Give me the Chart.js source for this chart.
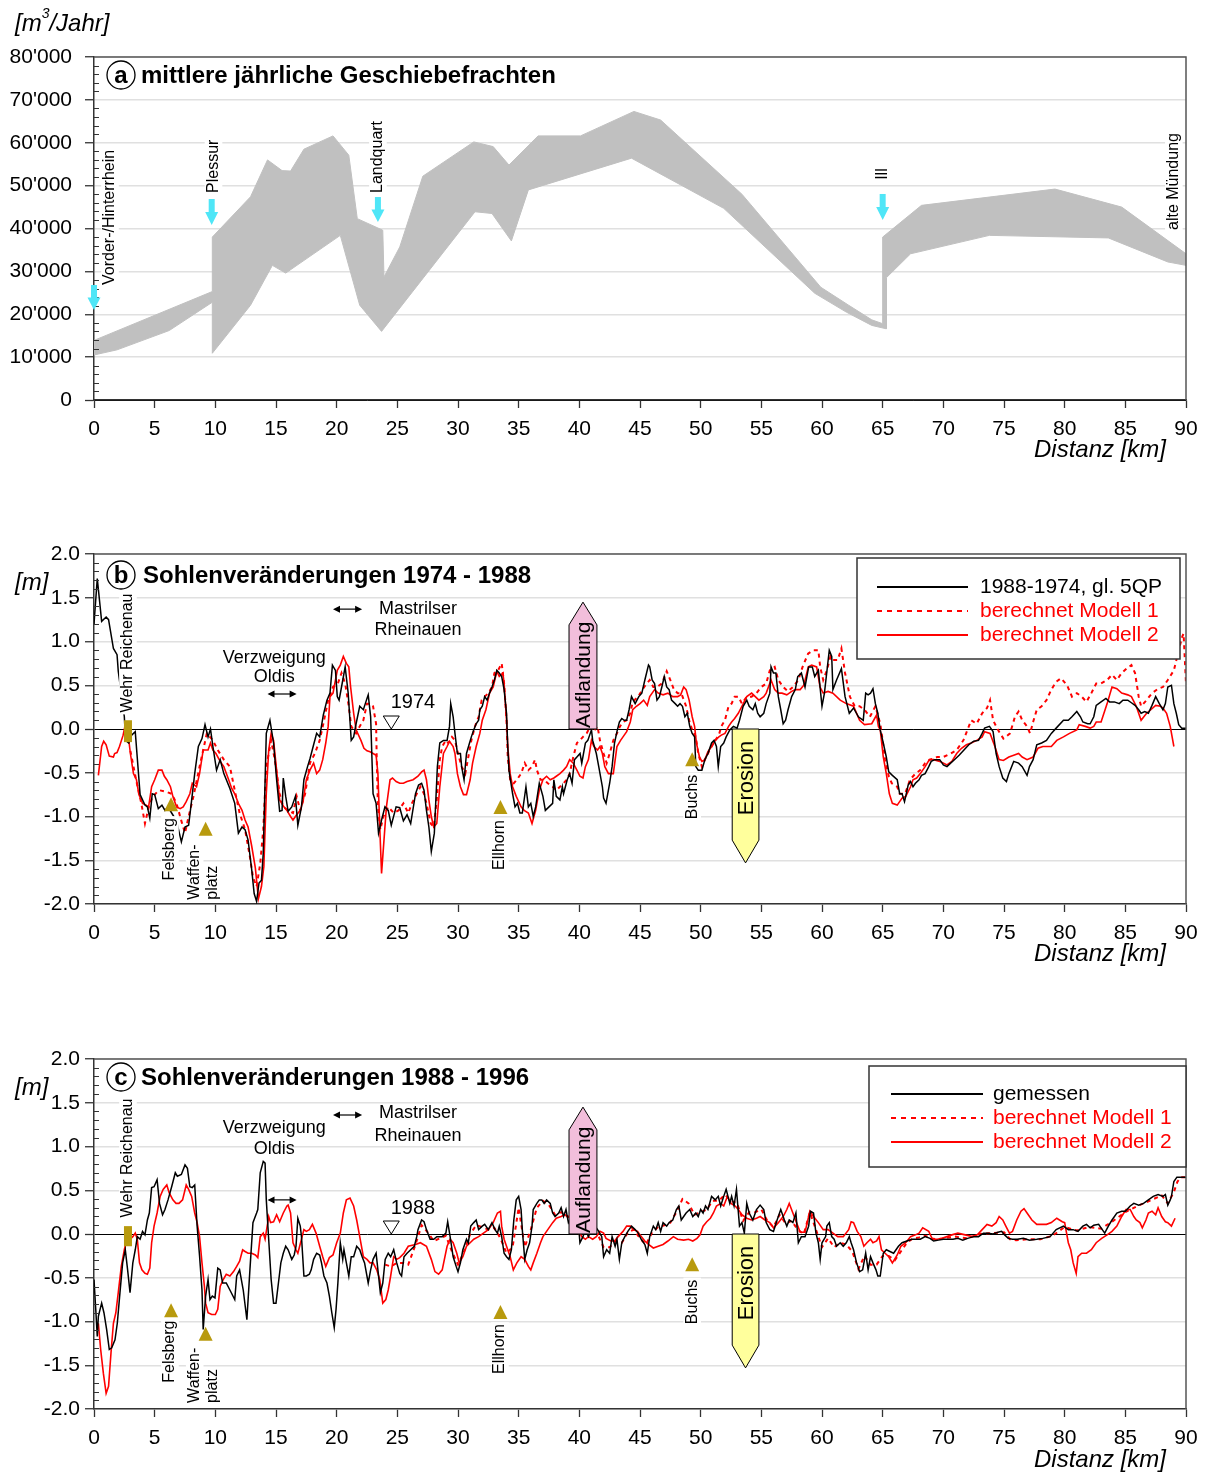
<!DOCTYPE html>
<html><head><meta charset="utf-8">
<script src="https://cdn.jsdelivr.net/npm/chart.js@4.4.0/dist/chart.umd.min.js"></script>
<style>
html,body{margin:0;padding:0;background:#fff;}
body{width:1208px;height:1472px;position:relative;overflow:hidden;}
canvas{position:absolute;left:0;}
</style></head><body>
<canvas id="ca" width="1208" height="470" style="top:0px;width:1208px;height:470px"></canvas>
<canvas id="cb" width="1208" height="480" style="top:490px;width:1208px;height:480px"></canvas>
<canvas id="cc" width="1208" height="482" style="top:990px;width:1208px;height:482px"></canvas>
<script>
// ---------------- DATA ----------------
const kmTicks = [0,5,10,15,20,25,30,35,40,45,50,55,60,65,70,75,80,85,90];
const loadTicks = [0,10000,20000,30000,40000,50000,60000,70000,80000];
const changeTicks = [-2,-1.5,-1,-0.5,0,0.5,1,1.5,2];

// (a) mean annual bedload: upper and lower bound of band [km, m3/year]
const loadUpper = [[0,13900],[9.75,25300],[9.75,38000],[12.9,47400],[14.3,56000],[15.5,53500],[16.2,53400],[17.3,58500],[19.7,61600],[21.0,57100],[21.7,42300],[23.8,39600],[23.9,28700],[25.2,35700],[27.1,52200],[31.3,60200],[32.9,59100],[34.2,54800],[36.6,61600],[40.1,61600],[44.5,67300],[46.7,65300],[53.4,48000],[59.9,26300],[62.2,22100],[64.1,18700],[65.0,17800],[65.0,38000],[68.2,45400],[79.2,49200],[84.7,45000],[90,34100]];
const loadLower = [[0,10500],[1.9,11700],[6.2,16200],[9.75,22800],[9.75,10900],[12.9,22100],[14.7,31400],[15.8,29600],[20.3,38400],[21.9,22100],[23.7,16000],[31.4,43900],[32.8,43500],[34.4,37100],[35.8,49000],[44.3,56400],[51.9,44700],[59.4,24900],[62.0,20500],[64.1,17400],[65.3,16600],[65.3,28500],[67.3,34100],[73.8,38400],[83.6,37800],[88.5,32200],[90,31400]];

// (b) bed changes 1974-1988 [km, m]
const bMeasured = [[0,1.20],[0.27,1.72],[0.63,1.23],[1.0,1.28],[1.2,1.25],[1.6,0.92],[1.9,0.85],[2.0,0.66],[2.5,0.14],[2.6,-0.13],[2.86,-0.16],[3.1,-0.07],[3.4,-0.03],[3.8,-0.75],[4.2,-0.87],[4.4,-0.89],[4.6,-1.02],[4.8,-0.74],[5.0,-0.75],[5.3,-0.91],[5.6,-0.87],[5.85,-0.93],[6.1,-0.89],[6.4,-0.96],[6.8,-1.05],[7.2,-1.29],[7.5,-1.12],[7.8,-1.10],[8.05,-0.81],[8.3,-0.51],[8.6,-0.20],[8.9,-0.11],[9.15,0.05],[9.4,-0.09],[9.6,0.0],[9.8,-0.20],[10.1,-0.47],[10.4,-0.35],[10.7,-0.51],[11.2,-0.68],[11.6,-0.85],[11.9,-1.19],[12.2,-1.12],[12.45,-1.15],[12.7,-1.27],[13.0,-1.61],[13.2,-1.88],[13.4,-1.97],[13.6,-1.76],[13.8,-1.73],[13.95,-1.42],[14.2,-0.05],[14.5,0.10],[14.8,-0.16],[15.05,-0.58],[15.3,-0.94],[15.5,-0.93],[15.6,-0.56],[15.8,-0.77],[16.0,-0.94],[16.3,-0.89],[16.4,-0.85],[16.6,-0.77],[16.8,-1.10],[17.1,-0.89],[17.3,-0.58],[17.6,-0.43],[17.8,-0.34],[18.1,-0.18],[18.35,-0.05],[18.6,-0.09],[18.9,0.16],[19.2,0.33],[19.45,0.41],[19.65,0.73],[19.9,0.67],[20.05,0.37],[20.2,0.33],[20.4,0.48],[20.7,0.71],[20.95,0.41],[21.2,-0.13],[21.4,-0.09],[21.6,0.06],[21.9,0.26],[22.2,0.22],[22.5,0.35],[22.6,0.39],[22.8,0.14],[23.0,-0.74],[23.25,-0.85],[23.45,-1.19],[23.7,-1.04],[23.98,-0.89],[24.25,-0.93],[24.5,-1.10],[24.9,-0.89],[25.2,-0.90],[25.5,-1.05],[25.8,-0.98],[26.1,-1.08],[26.5,-0.74],[26.75,-0.64],[27.0,-0.62],[27.2,-0.70],[27.4,-0.93],[27.6,-1.12],[27.8,-1.40],[28.05,-1.19],[28.3,-0.43],[28.5,-0.16],[28.8,-0.13],[29.1,-0.13],[29.3,0.03],[29.4,0.29],[29.6,0.14],[29.75,-0.05],[29.95,-0.28],[30.2,-0.28],[30.3,-0.43],[30.5,-0.58],[30.7,-0.28],[30.95,-0.16],[31.1,-0.09],[31.3,-0.01],[31.5,0.06],[31.7,0.10],[31.8,0.22],[32.0,0.26],[32.2,0.37],[32.4,0.33],[32.6,0.41],[32.8,0.48],[33.0,0.56],[33.2,0.67],[33.4,0.64],[33.6,0.60],[33.8,0.45],[34.0,0.18],[34.1,-0.20],[34.2,-0.47],[34.5,-0.74],[34.7,-0.89],[34.9,-0.85],[35.1,-0.96],[35.3,-0.96],[35.6,-0.66],[35.8,-0.89],[36.0,-0.85],[36.2,-1.00],[36.4,-0.89],[36.7,-0.62],[37.0,-0.77],[37.2,-0.93],[37.5,-0.89],[37.8,-0.85],[37.9,-0.58],[38.1,-0.77],[38.4,-0.81],[38.6,-0.66],[38.7,-0.74],[39.0,-0.58],[39.2,-0.51],[39.4,-0.62],[39.6,-0.35],[39.8,-0.32],[40.06,-0.28],[40.2,-0.39],[40.5,-0.16],[40.7,-0.13],[40.9,-0.05],[41.0,-0.01],[41.1,-0.13],[41.4,-0.28],[41.6,-0.43],[41.9,-0.66],[42.0,-0.79],[42.2,-0.85],[42.5,-0.62],[42.7,-0.43],[42.9,-0.16],[43.1,-0.03],[43.3,0.08],[43.5,0.12],[43.7,0.10],[43.9,0.10],[44.1,0.22],[44.3,0.37],[44.6,0.29],[44.9,0.37],[45.15,0.41],[45.4,0.56],[45.7,0.73],[45.8,0.71],[46.0,0.56],[46.2,0.52],[46.4,0.33],[46.6,0.37],[46.8,0.48],[47.0,0.60],[47.2,0.48],[47.4,0.45],[47.6,0.33],[47.9,0.29],[48.1,0.26],[48.3,0.29],[48.5,0.26],[48.7,0.14],[48.9,0.18],[49.1,0.03],[49.3,-0.05],[49.5,-0.09],[49.6,-0.43],[49.8,-0.47],[50.1,-0.47],[50.35,-0.35],[50.6,-0.28],[50.9,-0.16],[51.1,-0.13],[51.3,-0.20],[51.45,-0.43],[51.65,-0.20],[51.9,-0.16],[52.1,-0.09],[52.4,-0.01],[52.7,0.03],[53.0,0.01],[53.2,0.10],[53.5,0.26],[53.8,0.33],[54.0,0.26],[54.3,0.22],[54.5,0.29],[54.7,0.18],[54.9,0.14],[55.2,0.18],[55.4,0.29],[55.7,0.41],[55.8,0.71],[56.0,0.64],[56.2,0.64],[56.4,0.37],[56.6,0.22],[56.8,0.06],[57.0,0.10],[57.2,0.22],[57.5,0.37],[57.8,0.45],[58.0,0.60],[58.3,0.64],[58.6,0.48],[58.9,0.71],[59.2,0.71],[59.4,0.60],[59.7,0.67],[60.0,0.26],[60.2,0.41],[60.6,0.90],[60.8,0.83],[60.9,0.45],[61.2,0.56],[61.6,0.69],[61.9,0.37],[62.25,0.18],[62.6,0.24],[63.0,0.14],[63.4,0.10],[63.6,0.41],[63.8,0.39],[64.0,0.41],[64.2,0.46],[64.4,0.29],[64.6,0.18],[64.8,-0.01],[65.05,-0.16],[65.3,-0.32],[65.5,-0.49],[65.8,-0.53],[66.2,-0.58],[66.4,-0.74],[66.6,-0.74],[66.8,-0.83],[66.9,-0.77],[67.1,-0.64],[67.3,-0.60],[67.5,-0.66],[67.7,-0.62],[68.0,-0.58],[68.2,-0.53],[68.5,-0.51],[68.8,-0.43],[69.0,-0.37],[69.3,-0.35],[69.7,-0.35],[70.0,-0.41],[70.3,-0.43],[70.6,-0.39],[71.0,-0.34],[71.3,-0.30],[71.7,-0.24],[72.1,-0.18],[72.5,-0.14],[72.9,-0.13],[73.2,-0.05],[73.4,0.01],[73.8,0.03],[74.1,-0.03],[74.35,-0.28],[74.6,-0.43],[74.9,-0.56],[75.2,-0.60],[75.4,-0.51],[75.8,-0.37],[76.2,-0.39],[76.5,-0.43],[76.9,-0.53],[77.1,-0.43],[77.4,-0.35],[77.7,-0.18],[78.1,-0.16],[78.5,-0.13],[78.9,-0.05],[79.3,0.01],[79.9,0.10],[80.3,0.10],[80.6,0.14],[81.0,0.20],[81.3,0.14],[81.5,0.08],[81.9,0.06],[82.1,0.06],[82.4,0.14],[82.6,0.27],[83.0,0.31],[83.4,0.35],[83.7,0.31],[84.1,0.31],[84.5,0.29],[84.8,0.33],[85.2,0.33],[85.5,0.30],[85.8,0.27],[86.1,0.22],[86.3,0.18],[86.6,0.20],[86.9,0.18],[87.2,0.27],[87.5,0.37],[87.8,0.29],[88.1,0.22],[88.3,0.29],[88.5,0.48],[88.8,0.50],[89.0,0.29],[89.2,0.18],[89.4,0.05],[89.65,0.01],[90.0,0.01]];
const bModel1 = [[3.0,-0.25],[3.5,-0.60],[3.9,-0.85],[4.2,-1.08],[4.5,-0.90],[4.8,-0.78],[5.2,-0.72],[5.4,-0.70],[6.0,-0.72],[6.4,-0.74],[6.8,-0.85],[7.2,-1.05],[7.5,-1.19],[7.8,-1.00],[8.2,-0.77],[8.7,-0.43],[9.3,-0.05],[9.8,-0.13],[10.2,-0.24],[10.7,-0.35],[11.2,-0.43],[11.6,-0.70],[12.0,-0.96],[12.45,-1.15],[12.85,-1.46],[13.1,-1.69],[13.4,-1.80],[13.7,-1.54],[13.95,-1.15],[14.2,-0.43],[14.6,-0.13],[14.9,-0.35],[15.3,-0.74],[15.6,-0.89],[16.0,-0.93],[16.4,-0.96],[16.7,-0.77],[17.0,-0.93],[17.4,-0.74],[17.8,-0.39],[18.2,-0.28],[18.6,-0.13],[18.9,0.06],[19.3,0.33],[19.7,0.48],[20.1,0.52],[20.4,0.64],[20.7,0.52],[21.0,0.26],[21.2,0.03],[21.6,-0.05],[21.9,0.03],[22.2,0.10],[22.5,0.29],[22.75,0.29],[23.0,0.26],[23.25,0.06],[23.3,-0.32],[23.4,-0.89],[23.6,-1.15],[23.85,-1.00],[24.25,-0.89],[24.7,-0.96],[25.1,-0.93],[25.5,-0.85],[25.9,-0.96],[26.2,-0.85],[26.6,-0.74],[26.9,-0.66],[27.2,-0.74],[27.4,-0.85],[27.75,-1.08],[28.0,-1.12],[28.25,-0.81],[28.5,-0.35],[28.7,-0.20],[29.0,-0.13],[29.2,-0.16],[29.5,-0.09],[29.75,-0.13],[30.0,-0.28],[30.3,-0.43],[30.6,-0.51],[30.85,-0.32],[31.1,-0.13],[31.4,0.03],[31.7,0.14],[31.95,0.33],[32.2,0.37],[32.5,0.41],[32.8,0.48],[33.0,0.64],[33.3,0.67],[33.6,0.75],[33.8,0.52],[34.0,0.10],[34.1,-0.32],[34.3,-0.58],[34.6,-0.62],[34.85,-0.58],[35.2,-0.51],[35.5,-0.39],[35.8,-0.47],[36.1,-0.43],[36.35,-0.35],[36.5,-0.47],[36.8,-0.58],[37.1,-0.58],[37.4,-0.62],[37.8,-0.66],[38.1,-0.70],[38.4,-0.66],[38.7,-0.62],[38.95,-0.58],[39.2,-0.51],[39.5,-0.32],[39.8,-0.16],[40.05,-0.13],[40.3,-0.09],[40.6,-0.05],[40.9,0.03],[41.15,-0.03],[41.5,0.03],[41.7,-0.13],[42.0,-0.28],[42.25,-0.39],[42.5,-0.28],[42.8,-0.13],[43.1,-0.05],[43.35,0.03],[43.6,0.08],[43.9,0.10],[44.2,0.18],[44.4,0.31],[44.85,0.37],[45.25,0.46],[45.55,0.52],[45.8,0.56],[46.1,0.48],[46.4,0.48],[46.8,0.52],[47.2,0.66],[47.5,0.56],[47.8,0.45],[48.1,0.41],[48.4,0.41],[48.8,0.26],[49.05,0.10],[49.3,-0.01],[49.6,-0.09],[49.8,-0.28],[50.1,-0.43],[50.35,-0.35],[50.6,-0.28],[50.9,-0.20],[51.2,-0.13],[51.5,-0.07],[51.7,0.03],[52.0,0.10],[52.3,0.26],[52.55,0.29],[52.8,0.37],[53.1,0.37],[53.4,0.29],[53.8,0.37],[54.2,0.37],[54.6,0.41],[55.0,0.48],[55.4,0.52],[55.7,0.67],[56.1,0.71],[56.4,0.56],[56.8,0.48],[57.2,0.43],[57.6,0.48],[58.05,0.56],[58.4,0.71],[58.85,0.86],[59.25,0.90],[59.7,0.90],[59.85,0.71],[60.1,0.56],[60.4,0.67],[60.7,0.83],[60.9,0.79],[61.3,0.79],[61.6,0.92],[61.9,0.64],[62.3,0.37],[62.7,0.26],[63.1,0.26],[63.5,0.22],[63.95,0.14],[64.4,0.26],[64.8,0.06],[65.0,-0.13],[65.2,-0.35],[65.5,-0.54],[65.75,-0.62],[66.2,-0.66],[66.4,-0.74],[66.85,-0.74],[67.25,-0.58],[67.7,-0.51],[68.1,-0.47],[68.5,-0.39],[68.9,-0.35],[69.5,-0.32],[70.0,-0.32],[70.6,-0.28],[71.1,-0.24],[71.65,-0.13],[72.1,0.03],[72.3,0.10],[72.75,0.06],[73.2,0.18],[73.6,0.24],[73.85,0.33],[74.1,0.10],[74.5,-0.01],[74.95,-0.11],[75.5,-0.05],[75.9,0.14],[76.2,0.20],[76.5,0.10],[76.9,0.03],[77.15,-0.05],[77.4,0.08],[77.7,0.22],[78.1,0.26],[78.5,0.33],[78.9,0.45],[79.3,0.54],[79.7,0.58],[80.2,0.50],[80.6,0.37],[81.0,0.41],[81.4,0.37],[81.8,0.31],[82.2,0.41],[82.6,0.52],[83.0,0.52],[83.5,0.56],[83.9,0.62],[84.3,0.56],[84.7,0.64],[85.1,0.69],[85.5,0.73],[85.8,0.64],[86.1,0.37],[86.3,0.26],[86.75,0.33],[87.2,0.41],[87.7,0.46],[88.1,0.48],[88.5,0.56],[89.0,0.67],[89.4,0.90],[89.7,1.06],[89.8,1.09],[90.0,0.52]];
const bModel2 = [[0.36,-0.53],[0.63,-0.20],[0.8,-0.14],[1.0,-0.18],[1.26,-0.31],[1.6,-0.32],[1.7,-0.28],[1.9,-0.27],[2.1,-0.20],[2.4,-0.07],[2.55,0.03],[2.8,-0.05],[3.0,-0.28],[3.25,-0.51],[3.5,-0.58],[3.7,-0.75],[4.0,-0.85],[4.3,-0.87],[4.5,-0.89],[4.75,-0.66],[5.0,-0.58],[5.3,-0.47],[5.6,-0.47],[5.8,-0.54],[6.0,-0.58],[6.3,-0.66],[6.5,-0.77],[6.8,-0.89],[7.1,-0.91],[7.35,-0.89],[7.6,-0.83],[7.9,-0.74],[8.1,-0.62],[8.45,-0.66],[8.7,-0.51],[9.0,-0.24],[9.15,-0.24],[9.4,-0.24],[9.6,-0.16],[9.8,-0.24],[10.05,-0.28],[10.4,-0.37],[10.7,-0.43],[11.1,-0.58],[11.35,-0.68],[11.6,-0.74],[11.9,-0.85],[12.2,-0.93],[12.45,-1.04],[12.7,-1.12],[13.0,-1.34],[13.3,-1.59],[13.55,-1.94],[13.8,-1.80],[14.0,-1.57],[14.2,-0.74],[14.4,-0.24],[14.6,-0.05],[14.8,-0.13],[15.05,-0.47],[15.3,-0.81],[15.65,-0.89],[15.9,-0.93],[16.2,-1.00],[16.4,-1.04],[16.7,-0.98],[17.0,-0.93],[17.25,-0.81],[17.5,-0.58],[17.8,-0.47],[18.1,-0.39],[18.35,-0.51],[18.6,-0.47],[18.85,-0.35],[19.1,-0.16],[19.3,0.03],[19.45,0.37],[19.7,0.41],[20.05,0.67],[20.3,0.73],[20.55,0.83],[20.8,0.75],[21.0,0.71],[21.15,0.48],[21.4,0.18],[21.6,-0.01],[22.0,-0.13],[22.25,-0.22],[22.5,-0.25],[22.75,-0.26],[23.0,-0.28],[23.25,-0.30],[23.4,-0.51],[23.55,-1.12],[23.7,-1.65],[23.9,-1.27],[24.1,-0.89],[24.4,-0.58],[24.6,-0.56],[24.9,-0.60],[25.2,-0.62],[25.5,-0.62],[25.8,-0.60],[26.3,-0.58],[26.7,-0.54],[27.0,-0.49],[27.2,-0.47],[27.4,-0.58],[27.6,-0.81],[27.8,-1.00],[28.0,-1.12],[28.25,-1.08],[28.5,-0.66],[28.8,-0.28],[29.1,-0.20],[29.3,-0.14],[29.6,-0.20],[29.75,-0.28],[29.95,-0.51],[30.2,-0.66],[30.45,-0.75],[30.7,-0.75],[31.0,-0.58],[31.2,-0.39],[31.5,-0.20],[31.8,-0.05],[32.0,0.10],[32.3,0.22],[32.6,0.41],[32.9,0.48],[33.2,0.66],[33.4,0.60],[33.7,0.64],[33.8,0.52],[34.0,0.10],[34.1,-0.20],[34.3,-0.51],[34.5,-0.66],[34.8,-0.77],[35.2,-0.89],[35.45,-0.93],[35.8,-0.96],[36.1,-1.08],[36.4,-0.93],[36.7,-0.70],[37.0,-0.58],[37.3,-0.54],[37.6,-0.58],[37.9,-0.56],[38.1,-0.54],[38.4,-0.51],[38.7,-0.47],[38.95,-0.43],[39.2,-0.35],[39.5,-0.39],[39.8,-0.47],[40.05,-0.54],[40.3,-0.56],[40.5,-0.43],[40.75,-0.35],[41.0,-0.13],[41.2,-0.20],[41.5,-0.24],[41.7,-0.20],[41.9,-0.28],[42.1,-0.43],[42.4,-0.51],[42.8,-0.51],[43.1,-0.20],[43.4,-0.13],[43.6,-0.09],[43.9,-0.03],[44.2,0.08],[44.4,0.22],[44.7,0.26],[45.0,0.29],[45.3,0.33],[45.6,0.27],[45.8,0.37],[46.2,0.45],[46.5,0.41],[46.9,0.39],[47.3,0.41],[47.7,0.37],[48.1,0.37],[48.35,0.39],[48.6,0.48],[48.8,0.45],[49.05,0.33],[49.3,0.14],[49.5,0.03],[49.65,-0.16],[49.9,-0.32],[50.1,-0.37],[50.35,-0.35],[50.6,-0.26],[50.9,-0.20],[51.2,-0.13],[51.5,-0.09],[51.7,-0.07],[52.0,-0.05],[52.3,0.03],[52.55,0.08],[52.8,0.12],[53.1,0.18],[53.4,0.26],[53.8,0.37],[54.2,0.41],[54.5,0.37],[54.8,0.33],[55.2,0.37],[55.4,0.41],[55.8,0.56],[56.1,0.45],[56.4,0.41],[56.7,0.41],[57.1,0.39],[57.5,0.43],[57.8,0.45],[58.2,0.45],[58.5,0.50],[58.87,0.71],[59.15,0.73],[59.56,0.71],[59.84,0.48],[60.1,0.41],[60.5,0.43],[60.9,0.41],[61.5,0.33],[62.0,0.29],[62.6,0.26],[63.1,0.10],[63.5,0.05],[64.1,0.06],[64.5,0.16],[64.65,0.03],[64.8,-0.01],[65.05,-0.32],[65.3,-0.51],[65.55,-0.74],[65.8,-0.85],[66.2,-0.87],[66.6,-0.79],[66.9,-0.77],[67.3,-0.66],[67.5,-0.58],[67.8,-0.56],[68.1,-0.51],[68.5,-0.43],[68.85,-0.35],[69.2,-0.35],[69.7,-0.37],[70.3,-0.41],[70.7,-0.37],[71.1,-0.28],[71.5,-0.22],[71.9,-0.18],[72.3,-0.16],[72.75,-0.13],[73.2,-0.09],[73.4,-0.03],[73.85,-0.05],[74.25,-0.20],[74.6,-0.35],[74.95,-0.36],[75.4,-0.32],[75.8,-0.30],[76.2,-0.28],[76.5,-0.32],[76.9,-0.35],[77.4,-0.32],[77.8,-0.22],[78.2,-0.20],[78.9,-0.20],[79.35,-0.13],[79.9,-0.09],[80.4,-0.05],[81.0,-0.01],[81.2,0.05],[81.7,0.03],[82.1,0.01],[82.4,0.03],[82.6,0.08],[83.0,0.08],[83.5,0.29],[83.9,0.48],[84.3,0.46],[84.7,0.41],[85.2,0.39],[85.5,0.37],[85.9,0.26],[86.3,0.10],[86.75,0.18],[87.1,0.22],[87.5,0.27],[87.9,0.26],[88.1,0.24],[88.4,0.18],[88.7,0.03],[89.0,-0.20]];

// (c) bed changes 1988-1996 [km, m]
const cMeasured = [[0,-0.52],[0.16,-0.90],[0.27,-1.17],[0.36,-0.94],[0.63,-0.79],[0.82,-0.90],[1.04,-1.09],[1.26,-1.32],[1.46,-1.30],[1.73,-1.21],[1.92,-1.02],[2.14,-0.67],[2.36,-0.33],[2.58,-0.18],[2.77,-0.41],[2.97,-0.67],[3.2,-0.33],[3.4,-0.18],[3.57,-0.03],[3.8,-0.06],[4.0,0.03],[4.2,-0.01],[4.4,0.16],[4.56,0.24],[4.75,0.53],[4.95,0.54],[5.2,0.62],[5.4,0.35],[5.65,0.22],[5.85,0.28],[6.1,0.39],[6.4,0.54],[6.7,0.70],[6.87,0.66],[7.2,0.68],[7.5,0.79],[7.7,0.75],[7.9,0.54],[8.1,0.53],[8.3,0.56],[8.5,0.09],[8.7,-0.25],[8.9,-0.64],[9.0,-1.09],[9.2,-0.71],[9.4,-0.52],[9.56,-0.75],[9.75,-0.71],[9.97,-0.73],[10.2,-0.39],[10.4,-0.41],[10.6,-0.56],[10.9,-0.56],[11.2,-0.64],[11.6,-0.75],[11.76,-0.48],[12.0,-0.41],[12.3,-0.64],[12.6,-0.98],[12.85,-0.41],[13.1,0.13],[13.4,0.24],[13.5,0.28],[13.7,0.70],[13.95,0.83],[14.1,0.81],[14.2,0.39],[14.45,-0.18],[14.6,-0.52],[14.8,-0.79],[15.0,-0.79],[15.2,-0.56],[15.4,-0.33],[15.6,-0.22],[15.8,-0.14],[16.0,-0.18],[16.3,-0.29],[16.5,-0.24],[16.65,-0.14],[16.8,0.18],[17.0,0.09],[17.1,-0.03],[17.3,-0.48],[17.5,-0.48],[17.75,-0.46],[17.9,-0.41],[18.1,-0.29],[18.35,-0.22],[18.6,-0.24],[18.75,-0.33],[18.95,-0.48],[19.2,-0.56],[19.4,-0.71],[19.6,-0.90],[19.8,-1.07],[19.95,-0.86],[20.1,-0.56],[20.3,-0.10],[20.5,-0.29],[20.6,-0.18],[20.8,-0.33],[21.0,-0.48],[21.2,-0.26],[21.4,-0.26],[21.65,-0.14],[21.9,-0.18],[22.1,-0.26],[22.3,-0.33],[22.6,-0.56],[22.8,-0.41],[23.0,-0.29],[23.25,-0.22],[23.4,-0.41],[23.6,-0.67],[23.8,-0.56],[24.0,-0.29],[24.25,-0.22],[24.45,-0.26],[24.7,-0.18],[24.95,-0.33],[25.2,-0.45],[25.35,-0.48],[25.55,-0.26],[25.8,-0.22],[26.1,-0.18],[26.4,-0.14],[26.6,-0.03],[26.7,0.05],[27.0,0.16],[27.2,0.14],[27.4,0.05],[27.7,-0.06],[28.0,-0.06],[28.25,-0.03],[28.7,-0.03],[29.0,0.01],[29.15,0.14],[29.35,-0.03],[29.6,-0.26],[29.85,-0.37],[30.0,-0.43],[30.2,-0.33],[30.4,-0.18],[30.7,-0.06],[30.85,-0.10],[31.05,0.09],[31.3,0.13],[31.5,0.16],[31.7,0.05],[32.0,0.09],[32.2,0.11],[32.5,0.05],[32.8,0.13],[33.05,0.05],[33.25,0.01],[33.4,0.09],[33.6,-0.03],[33.8,-0.22],[34.0,-0.26],[34.2,-0.29],[34.4,-0.18],[34.6,0.16],[34.8,0.39],[35.0,0.43],[35.2,0.28],[35.3,0.05],[35.5,-0.29],[35.7,-0.18],[35.9,-0.10],[36.1,0.09],[36.2,0.28],[36.5,0.35],[36.7,0.39],[36.9,0.39],[37.1,0.35],[37.3,0.39],[37.6,0.35],[37.8,0.24],[38.0,0.20],[38.3,0.24],[38.5,0.30],[38.7,0.20],[38.9,0.28],[39.1,0.13],[39.4,0.20],[39.6,0.20],[39.9,0.16],[40.05,-0.10],[40.3,-0.03],[40.5,0.05],[40.75,-0.03],[41.0,0.05],[41.3,0.09],[41.6,0.03],[41.85,-0.03],[42.0,-0.26],[42.25,-0.18],[42.5,-0.22],[42.7,-0.03],[42.95,-0.14],[43.1,-0.06],[43.3,-0.29],[43.5,-0.10],[43.75,-0.03],[44.0,0.03],[44.3,0.09],[44.6,0.05],[44.85,0.01],[45.1,-0.06],[45.4,-0.12],[45.6,-0.22],[45.8,-0.03],[46.1,0.09],[46.3,0.05],[46.5,0.13],[46.7,0.03],[46.9,0.13],[47.2,0.09],[47.4,0.13],[47.7,0.16],[48.0,0.28],[48.2,0.32],[48.4,0.16],[48.6,0.20],[48.8,0.24],[49.1,0.28],[49.35,0.20],[49.6,0.24],[49.8,0.20],[50.0,0.28],[50.2,0.24],[50.4,0.32],[50.6,0.28],[50.9,0.43],[51.2,0.39],[51.45,0.43],[51.65,0.32],[51.9,0.43],[52.1,0.51],[52.4,0.35],[52.55,0.43],[52.75,0.32],[52.95,0.51],[53.2,0.09],[53.4,0.13],[53.6,0.01],[53.8,0.35],[54.0,0.24],[54.3,0.16],[54.6,0.28],[54.9,0.33],[55.2,0.28],[55.4,0.13],[55.7,0.05],[56.0,0.03],[56.3,0.16],[56.6,0.28],[56.9,0.16],[57.1,0.09],[57.3,0.16],[57.6,0.13],[57.85,0.24],[58.05,-0.10],[58.3,-0.03],[58.6,-0.03],[58.9,0.09],[59.05,0.26],[59.3,0.24],[59.5,0.01],[59.7,-0.10],[59.85,-0.29],[60.0,-0.10],[60.3,-0.03],[60.4,0.09],[60.6,0.13],[60.8,-0.03],[61.0,-0.06],[61.2,-0.14],[61.5,-0.10],[61.75,-0.14],[62.0,-0.10],[62.25,-0.03],[62.4,-0.10],[62.6,-0.18],[62.85,-0.33],[63.1,-0.43],[63.35,-0.41],[63.6,-0.22],[63.8,-0.41],[64.0,-0.26],[64.2,-0.33],[64.45,-0.41],[64.6,-0.48],[64.8,-0.48],[65.05,-0.22],[65.3,-0.18],[65.6,-0.20],[65.9,-0.22],[66.3,-0.14],[66.6,-0.10],[67.0,-0.08],[67.4,-0.06],[67.8,-0.06],[68.1,-0.06],[68.5,-0.03],[68.9,-0.05],[69.2,-0.08],[69.6,-0.07],[70.0,-0.06],[70.4,-0.06],[70.8,-0.06],[71.2,-0.05],[71.6,-0.07],[72.0,-0.05],[72.5,-0.03],[72.9,-0.03],[73.3,0.01],[73.7,0.01],[74.1,0.0],[74.5,0.02],[74.8,0.03],[75.05,-0.01],[75.35,-0.05],[75.7,-0.06],[76.1,-0.06],[76.6,-0.05],[77.1,-0.07],[77.7,-0.06],[78.2,-0.05],[78.8,-0.03],[79.3,0.05],[79.9,0.09],[80.3,0.05],[80.7,0.05],[81.1,0.03],[81.5,0.09],[81.8,0.11],[82.1,0.07],[82.4,0.10],[82.8,0.11],[83.0,0.07],[83.3,0.01],[83.6,0.09],[83.9,0.16],[84.3,0.24],[84.7,0.26],[85.0,0.26],[85.4,0.32],[85.7,0.35],[86.1,0.33],[86.5,0.35],[86.9,0.39],[87.3,0.43],[87.7,0.45],[88.1,0.43],[88.3,0.45],[88.5,0.33],[88.7,0.39],[88.8,0.43],[89.0,0.60],[89.25,0.65],[89.5,0.65],[90.0,0.65]];
const cModel1 = [[24.0,-0.35],[24.45,-0.37],[25.0,-0.33],[25.55,-0.33],[25.9,-0.35],[26.5,-0.12],[27.0,0.10],[27.5,0.02],[28.0,-0.08],[28.5,-0.05],[29.0,-0.02],[29.5,-0.20],[30.0,-0.35],[30.5,-0.20],[31.0,0.0],[31.5,0.10],[32.0,0.08],[32.5,0.05],[33.0,0.07],[33.5,-0.05],[34.0,-0.22],[34.5,-0.15],[35.0,0.30],[35.5,-0.15],[36.0,0.05],[36.5,0.30],[37.0,0.38],[37.5,0.33],[38.0,0.22],[38.5,0.25],[39.0,0.20],[39.5,0.18],[40.0,0.0],[40.5,0.02],[41.0,0.05],[41.5,0.0],[42.0,-0.15],[42.5,-0.15],[43.0,-0.08],[43.5,-0.10],[44.0,0.02],[44.5,0.05],[45.0,-0.05],[45.5,-0.12],[46.0,0.02],[46.5,0.08],[47.0,0.10],[47.5,0.13],[48.0,0.25],[48.5,0.40],[49.0,0.35],[49.5,0.22],[50.0,0.25],[50.5,0.28],[51.0,0.38],[51.5,0.38],[52.0,0.45],[52.5,0.38],[53.0,0.35],[53.5,0.15],[54.0,0.25],[54.5,0.25],[55.0,0.28],[55.5,0.15],[56.0,0.08],[56.5,0.22],[57.0,0.12],[57.5,0.15],[58.0,0.05],[58.5,0.0],[59.0,0.25],[59.5,0.05],[60.0,-0.15],[60.5,-0.05],[61.0,-0.15],[61.5,-0.10],[62.0,-0.12],[62.5,-0.20],[63.0,-0.40],[63.5,-0.25],[64.0,-0.35],[64.5,-0.35],[65.0,-0.25],[65.5,-0.25],[66.0,-0.30],[66.5,-0.20],[67.0,-0.10],[67.5,-0.05],[68.0,-0.04],[68.5,-0.02],[69.0,-0.05],[69.5,-0.06],[70.0,-0.05],[71.0,-0.03],[72.0,-0.05],[73.0,0.0],[74.0,0.01],[75.0,0.02],[75.5,-0.06],[76.0,-0.07],[77.0,-0.06],[78.0,-0.06],[79.0,-0.02],[80.0,0.08],[81.0,0.04],[82.0,0.08],[83.0,0.06],[84.0,0.15],[85.0,0.25],[86.0,0.32],[87.0,0.38],[88.0,0.44],[88.5,0.35],[89.0,0.48],[89.3,0.60],[89.6,0.65],[90.0,0.65]];
const cModel2 = [[0.36,-1.02],[0.55,-1.32],[0.77,-1.59],[1.0,-1.82],[1.2,-1.74],[1.4,-1.36],[1.6,-1.02],[1.8,-0.90],[2.0,-0.67],[2.25,-0.37],[2.5,-0.18],[2.7,-0.06],[2.97,-0.06],[3.2,-0.03],[3.4,0.01],[3.57,-0.06],[3.75,-0.33],[3.95,-0.41],[4.2,-0.45],[4.4,-0.46],[4.6,-0.39],[4.75,-0.10],[4.95,0.09],[5.2,0.24],[5.45,0.43],[5.7,0.51],[6.0,0.56],[6.2,0.47],[6.5,0.39],[6.76,0.35],[7.0,0.35],[7.3,0.39],[7.6,0.56],[7.8,0.51],[8.05,0.43],[8.3,0.24],[8.5,0.13],[8.7,-0.03],[8.9,-0.33],[9.1,-0.60],[9.2,-0.79],[9.4,-0.90],[9.7,-0.92],[10.0,-0.92],[10.2,-0.86],[10.4,-0.60],[10.65,-0.52],[10.9,-0.46],[11.2,-0.48],[11.5,-0.43],[11.76,-0.37],[12.0,-0.31],[12.25,-0.18],[12.45,-0.20],[12.7,-0.22],[13.0,-0.22],[13.3,-0.24],[13.5,-0.27],[13.7,-0.03],[13.95,0.01],[14.1,-0.06],[14.4,0.20],[14.55,0.13],[14.8,0.14],[15.05,0.22],[15.3,0.14],[15.6,0.24],[15.9,0.32],[16.0,0.33],[16.2,0.24],[16.4,-0.10],[16.65,-0.18],[16.8,-0.22],[17.1,-0.06],[17.3,0.05],[17.5,0.03],[17.75,0.05],[18.0,0.11],[18.3,0.01],[18.6,-0.14],[18.85,-0.26],[19.1,-0.37],[19.4,-0.27],[19.7,-0.24],[20.0,-0.10],[20.3,0.01],[20.55,0.24],[20.8,0.39],[21.1,0.41],[21.4,0.32],[21.65,0.16],[21.9,-0.03],[22.2,-0.26],[22.5,-0.29],[22.75,-0.33],[23.0,-0.33],[23.3,-0.41],[23.55,-0.52],[23.8,-0.79],[24.05,-0.75],[24.25,-0.64],[24.45,-0.48],[24.7,-0.26],[24.95,-0.29],[25.2,-0.27],[25.55,-0.22],[25.9,-0.14],[26.5,-0.12],[26.9,-0.10],[27.4,-0.14],[27.8,-0.29],[28.1,-0.43],[28.4,-0.46],[28.7,-0.41],[29.1,-0.14],[29.35,-0.06],[29.6,-0.10],[29.9,-0.22],[30.1,-0.33],[30.4,-0.26],[30.7,-0.14],[31.0,-0.10],[31.3,-0.06],[31.7,-0.03],[32.1,0.01],[32.5,0.05],[32.9,0.13],[33.25,0.24],[33.5,0.26],[33.6,0.09],[33.8,-0.06],[34.0,-0.14],[34.3,-0.26],[34.56,-0.41],[34.85,-0.33],[35.2,-0.26],[35.5,-0.29],[35.8,-0.37],[36.0,-0.41],[36.2,-0.33],[36.5,-0.22],[36.8,-0.10],[37.0,-0.03],[37.4,0.05],[37.8,0.13],[38.1,0.18],[38.5,0.20],[38.8,0.22],[39.1,0.20],[39.4,0.20],[39.6,0.09],[39.9,0.05],[40.2,-0.03],[40.5,-0.06],[40.75,-0.03],[41.1,-0.06],[41.4,-0.03],[41.7,0.03],[42.0,0.01],[42.2,-0.05],[42.6,-0.08],[42.9,-0.08],[43.2,-0.03],[43.6,0.03],[43.9,0.09],[44.2,0.09],[44.45,0.05],[44.8,0.03],[45.0,-0.01],[45.4,-0.08],[45.7,-0.12],[46.1,-0.16],[46.5,-0.14],[46.9,-0.12],[47.3,-0.08],[47.75,-0.03],[48.1,-0.06],[48.6,-0.07],[49.0,-0.06],[49.35,-0.08],[49.7,-0.05],[49.95,-0.01],[50.2,0.09],[50.5,0.14],[50.8,0.18],[51.05,0.24],[51.3,0.32],[51.65,0.35],[51.9,0.32],[52.2,0.43],[52.5,0.35],[52.85,0.32],[53.1,0.28],[53.4,0.22],[53.8,0.18],[54.2,0.16],[54.6,0.18],[54.9,0.20],[55.3,0.16],[55.7,0.13],[56.0,0.07],[56.4,0.13],[56.8,0.20],[57.1,0.28],[57.3,0.35],[57.6,0.24],[57.9,0.13],[58.2,0.02],[58.6,0.02],[59.0,0.26],[59.3,0.20],[59.7,0.13],[60.1,0.05],[60.5,0.05],[60.9,0.01],[61.3,-0.03],[61.75,-0.03],[62.2,0.05],[62.4,0.14],[62.6,0.13],[62.9,0.03],[63.2,-0.03],[63.45,-0.14],[63.7,-0.10],[64.0,-0.06],[64.2,-0.10],[64.5,-0.08],[64.7,-0.03],[64.9,-0.18],[65.2,-0.22],[65.5,-0.26],[65.8,-0.33],[66.2,-0.24],[66.5,-0.14],[66.9,-0.10],[67.3,-0.03],[67.7,-0.01],[68.0,0.01],[68.3,0.07],[68.8,0.03],[69.1,-0.06],[69.5,-0.06],[69.9,-0.05],[70.3,-0.03],[70.7,-0.01],[71.2,0.01],[71.8,-0.01],[72.4,-0.03],[72.8,-0.01],[73.2,0.05],[73.6,0.11],[74.0,0.09],[74.35,0.13],[74.6,0.20],[74.9,0.16],[75.15,0.09],[75.45,0.01],[75.7,0.03],[76.05,0.16],[76.4,0.26],[76.65,0.29],[76.9,0.24],[77.3,0.16],[77.7,0.11],[78.1,0.11],[78.5,0.11],[78.9,0.13],[79.35,0.18],[79.8,0.14],[80.0,0.13],[80.3,-0.10],[80.5,-0.18],[80.7,-0.33],[80.95,-0.45],[81.1,-0.26],[81.4,-0.22],[81.8,-0.22],[82.2,-0.18],[82.6,-0.10],[83.05,-0.05],[83.5,-0.01],[83.9,0.03],[84.3,0.09],[84.7,0.20],[85.05,0.28],[85.4,0.28],[85.7,0.20],[85.9,0.16],[86.2,0.13],[86.4,0.07],[86.7,0.16],[86.9,0.24],[87.2,0.26],[87.5,0.22],[87.7,0.30],[88.0,0.20],[88.3,0.14],[88.5,0.13],[88.8,0.09],[89.1,0.18]];

// ---------------- RENDERING ----------------
const FONT = '"Liberation Sans", Arial, Helvetica, sans-serif';
const RED = '#ff0000';
const AXIS = '#333';
const pts = arr => arr.map(([x, y]) => ({x, y}));

function text(ctx, s, x, y, o = {}) {
  ctx.save();
  const size = o.size || 16;
  ctx.font = (o.style || '') + ' ' + (o.weight || '') + ' ' + size + 'px ' + FONT;
  ctx.textAlign = o.align || 'left';
  ctx.textBaseline = 'middle';
  ctx.translate(x, y);
  if (o.rot) ctx.rotate(o.rot);
  if (o.bg) {
    const w = ctx.measureText(s).width, h = size * 1.1;
    const x0 = o.align === 'center' ? -w / 2 : o.align === 'right' ? -w : 0;
    ctx.fillStyle = '#fff';
    ctx.fillRect(x0 - 2, -h / 2, w + 4, h);
  }
  ctx.fillStyle = o.color || '#000';
  ctx.fillText(s, 0, 0);
  ctx.restore();
}
function circled(ctx, letter, cx, cy) {
  ctx.save();
  ctx.strokeStyle = '#000'; ctx.lineWidth = 1.3;
  ctx.beginPath(); ctx.arc(cx, cy, 14, 0, Math.PI * 2); ctx.stroke();
  ctx.restore();
  text(ctx, letter, cx, cy + 1, {size: 24, weight: 'bold', align: 'center'});
}
function dArrow(ctx, x1, x2, y) {
  ctx.save();
  ctx.strokeStyle = '#000'; ctx.fillStyle = '#000'; ctx.lineWidth = 1.2;
  ctx.beginPath(); ctx.moveTo(x1 + 3, y); ctx.lineTo(x2 - 3, y); ctx.stroke();
  ctx.beginPath(); ctx.moveTo(x1, y); ctx.lineTo(x1 + 7, y - 3.5); ctx.lineTo(x1 + 7, y + 3.5); ctx.closePath(); ctx.fill();
  ctx.beginPath(); ctx.moveTo(x2, y); ctx.lineTo(x2 - 7, y - 3.5); ctx.lineTo(x2 - 7, y + 3.5); ctx.closePath(); ctx.fill();
  ctx.restore();
}
function frame(ctx, a) {
  ctx.save();
  ctx.strokeStyle = '#555'; ctx.lineWidth = 1.5;
  ctx.beginPath(); ctx.moveTo(a.left, a.top); ctx.lineTo(a.right, a.top); ctx.lineTo(a.right, a.bottom); ctx.stroke();
  ctx.restore();
}
function minorTicks(chart, from, to, step, skipEvery) {
  const ctx = chart.ctx, a = chart.chartArea, y = chart.scales.y;
  ctx.save(); ctx.strokeStyle = AXIS; ctx.lineWidth = 1;
  const n = Math.round((to - from) / step);
  for (let i = 0; i <= n; i++) {
    if (i % skipEvery === 0) continue;
    const py = Math.round(y.getPixelForValue(from + i * step)) + 0.5;
    ctx.beginPath(); ctx.moveTo(a.left, py); ctx.lineTo(a.left + 5, py); ctx.stroke();
  }
  ctx.restore();
}

function baseOptions(top, xh, yMin, yMax, yTicks, yFmt, yPad) {
  return {
    responsive: false, animation: false, devicePixelRatio: 1,
    layout: {padding: {top: top, right: 22, left: 0, bottom: 0}},
    plugins: {legend: {display: false}, tooltip: {enabled: false}},
    elements: {point: {radius: 0}, line: {tension: 0}},
    scales: {
      x: {
        type: 'linear', min: 0, max: 90,
        afterFit(s) { s.height = xh; },
        afterBuildTicks(s) { s.ticks = kmTicks.map(v => ({value: v})); },
        ticks: {font: {family: FONT, size: 21}, color: '#000', padding: 9, maxRotation: 0, autoSkip: false},
        grid: {drawOnChartArea: false, drawTicks: true, tickLength: 8, tickColor: AXIS, tickWidth: 1.3},
        border: {color: AXIS, width: 1.5}
      },
      y: {
        type: 'linear', min: yMin, max: yMax,
        afterFit(s) { s.width = 94; },
        afterBuildTicks(s) { s.ticks = yTicks.map(v => ({value: v})); },
        ticks: {font: {family: FONT, size: 21}, color: '#000', padding: yPad, callback: yFmt},
        grid: {
          color: c => (Math.abs(c.tick.value) < 1e-9 ? '#000' : '#e0e0e0'),
          lineWidth: c => (Math.abs(c.tick.value) < 1e-9 ? 1 : 1.5),
          drawTicks: true, tickLength: 9, tickColor: AXIS, tickWidth: 1.3
        },
        border: {color: AXIS, width: 1.5}
      }
    }
  };
}

// ---------- Panel a ----------
const polygon = loadUpper.concat(loadLower.slice().reverse());
const decoA = {
  id: 'decoA',
  afterDraw(chart) {
    const ctx = chart.ctx, a = chart.chartArea;
    const X = v => chart.scales.x.getPixelForValue(v), Y = v => chart.scales.y.getPixelForValue(v);
    minorTicks(chart, 0, 80000, 2000, 5);
    frame(ctx, a);
    ctx.save();
    ctx.font = 'italic 24px ' + FONT; ctx.textBaseline = 'middle'; ctx.fillStyle = '#000';
    ctx.fillText('[m', 15, 24);
    let w = ctx.measureText('[m').width;
    ctx.font = 'italic 14px ' + FONT; ctx.fillText('3', 15 + w, 14);
    let w2 = ctx.measureText('3').width;
    ctx.font = 'italic 24px ' + FONT; ctx.fillText('/Jahr]', 15 + w + w2, 24);
    ctx.restore();
    text(ctx, 'Distanz [km]', 1166, 450, {size: 24, style: 'italic', align: 'right'});
    circled(ctx, 'a', 121, 75);
    text(ctx, 'mittlere jährliche Geschiebefrachten', 141, 76, {size: 24, weight: 'bold'});
    const arrows = [[0, 26820, 20990], [9.7, 46880, 40820], [23.4, 47340, 41520], [65.0, 48050, 41980]];
    ctx.save(); ctx.fillStyle = '#4fe6f7';
    for (const [km, t, b] of arrows) {
      const x = X(km), yt = Y(t), yb = Y(b);
      ctx.fillRect(x - 3, yt, 6, (yb - yt) * 0.55);
      ctx.beginPath(); ctx.moveTo(x - 6.5, yt + (yb - yt) * 0.5); ctx.lineTo(x + 6.5, yt + (yb - yt) * 0.5); ctx.lineTo(x, yb); ctx.closePath(); ctx.fill();
    }
    ctx.restore();
    const R = -Math.PI / 2;
    text(ctx, 'Vorder-/Hinterrhein', X(1.32), Y(26820), {size: 16, rot: R, bg: true});
    text(ctx, 'Plessur', X(9.85), Y(48280), {size: 16, rot: R, bg: true});
    text(ctx, 'Landquart', X(23.4), Y(48280), {size: 16, rot: R, bg: true});
    text(ctx, 'Ill', X(65.0), Y(52700), {size: 16, rot: R, align: 'center', bg: true});
    text(ctx, 'alte Mündung', X(89.0), Y(39650), {size: 16, rot: R, bg: true});
  }
};
new Chart(document.getElementById('ca'), {
  type: 'line',
  data: {datasets: [{
    label: 'Geschiebefracht', data: pts(polygon), fill: 'shape',
    backgroundColor: '#c0c0c0', borderColor: '#c0c0c0', borderWidth: 1, pointRadius: 0
  }]},
  options: baseOptions(57, 70, 0, 80000, loadTicks,
    v => (v === 0 ? '0' : (v / 1000) + "'000"), 13),
  plugins: [decoA]
});

// ---------- Panels b and c ----------
function drawProfileDeco(chart, P) {
  const ctx = chart.ctx, a = chart.chartArea;
  const X = v => chart.scales.x.getPixelForValue(v), Y = v => chart.scales.y.getPixelForValue(v);
  const T = P.canvasTop;
  minorTicks(chart, -2, 2, 0.1, 5);
  frame(ctx, a);
  text(ctx, '[m]', 15, P.unitY - T, {size: 24, style: 'italic'});
  text(ctx, 'Distanz [km]', 1166, P.distY - T, {size: 24, style: 'italic', align: 'right'});
  circled(ctx, P.letter, 121, P.titleY - T);
  text(ctx, P.title, P.titleX, P.titleY - T + 1, {size: 24, weight: 'bold'});
  const R = -Math.PI / 2;
  const gold = '#b89a0e';
  text(ctx, 'Wehr Reichenau', X(2.8), Y(0.19), {size: 16, rot: R, bg: true});
  ctx.save(); ctx.fillStyle = gold;
  ctx.fillRect(X(2.8) - 4, Y(P.wehrTop), 8, Y(P.wehrBot) - Y(P.wehrTop));
  ctx.restore();
  const tri = (km, v) => {
    const x = X(km), y = Y(v);
    ctx.save(); ctx.fillStyle = gold;
    ctx.beginPath(); ctx.moveTo(x, y); ctx.lineTo(x + 7, y + 14); ctx.lineTo(x - 7, y + 14); ctx.closePath(); ctx.fill();
    ctx.restore();
  };
  text(ctx, 'Felsberg', X(6.26), Y(P.felsLab), {size: 16, rot: R, bg: true});
  text(ctx, 'Waffen-', X(8.3), Y(P.waffLab), {size: 16, rot: R, bg: true});
  text(ctx, 'platz', X(9.8), Y(P.waffLab), {size: 16, rot: R, bg: true});
  text(ctx, 'Ellhorn', X(33.46), Y(P.ellLab), {size: 16, rot: R, bg: true});
  text(ctx, 'Buchs', X(49.3), Y(-1.03), {size: 16, rot: R, bg: true});
  tri(6.35, P.felsTri); tri(9.2, -1.06); tri(33.5, -0.81); tri(49.3, -0.265);
  text(ctx, 'Verzweigung', X(14.85), Y(P.verzY), {size: 18, align: 'center'});
  text(ctx, 'Oldis', X(14.85), Y(P.oldisY), {size: 18, align: 'center'});
  dArrow(ctx, X(14.3), X(16.7), Y(P.oldisArrow));
  dArrow(ctx, X(19.7), X(22.1), Y(P.mastArrow));
  text(ctx, 'Mastrilser', X(26.7), Y(P.mastY), {size: 18, align: 'center'});
  text(ctx, 'Rheinauen', X(26.7), Y(P.rheinY), {size: 18, align: 'center'});
  text(ctx, P.year, X(24.45), Y(P.yearY), {size: 20});
  ctx.save(); ctx.fillStyle = '#fff'; ctx.strokeStyle = '#000'; ctx.lineWidth = 1;
  const tx = X(24.5), ty = Y(0);
  ctx.beginPath(); ctx.moveTo(tx, ty); ctx.lineTo(tx + 8, ty - 13); ctx.lineTo(tx - 8, ty - 13); ctx.closePath(); ctx.fill(); ctx.stroke();
  ctx.restore();
  ctx.save(); ctx.strokeStyle = '#000'; ctx.lineWidth = 1;
  ctx.fillStyle = '#f2bedb';
  ctx.beginPath(); ctx.moveTo(X(39.15), Y(0)); ctx.lineTo(X(39.15), Y(1.19)); ctx.lineTo(X(40.3), Y(1.45));
  ctx.lineTo(X(41.45), Y(1.19)); ctx.lineTo(X(41.45), Y(0)); ctx.closePath(); ctx.fill(); ctx.stroke();
  ctx.fillStyle = '#ffff9c';
  ctx.beginPath(); ctx.moveTo(X(52.6), Y(0)); ctx.lineTo(X(52.6), Y(-1.27)); ctx.lineTo(X(53.7), Y(-1.53));
  ctx.lineTo(X(54.8), Y(-1.27)); ctx.lineTo(X(54.8), Y(0)); ctx.closePath(); ctx.fill(); ctx.stroke();
  ctx.restore();
  text(ctx, 'Auflandung', X(40.3) + 1, Y(0.62), {size: 21, rot: R, align: 'center'});
  text(ctx, 'Erosion', X(53.7) + 1, Y(-0.56), {size: 22, rot: R, align: 'center'});
  const L = P.legend;
  ctx.save();
  ctx.fillStyle = '#fff'; ctx.fillRect(L.x1, L.y1 - T, L.x2 - L.x1, L.y2 - L.y1);
  ctx.strokeStyle = '#333'; ctx.lineWidth = 1.5; ctx.strokeRect(L.x1, L.y1 - T, L.x2 - L.x1, L.y2 - L.y1);
  const entries = [[L.names[0], '#000', []], [L.names[1], RED, [5, 5]], [L.names[2], RED, []]];
  entries.forEach(([name, col, dash], i) => {
    const y = L.rows[i] - T;
    ctx.strokeStyle = col; ctx.lineWidth = 1.8; ctx.setLineDash(dash);
    ctx.beginPath(); ctx.moveTo(L.lx1, y); ctx.lineTo(L.lx2, y); ctx.stroke();
    ctx.setLineDash([]);
    text(ctx, name, L.tx, y, {size: 21, color: col});
  });
  ctx.restore();
}

function profileChart(id, meas, m1, m2, P, top, xh) {
  new Chart(document.getElementById(id), {
    type: 'line',
    data: {datasets: [
      {label: P.legend.names[0], data: pts(meas), borderColor: '#000', borderWidth: 1.5, pointRadius: 0, fill: false},
      {label: P.legend.names[2], data: pts(m2), borderColor: RED, borderWidth: 1.6, pointRadius: 0, fill: false},
      {label: P.legend.names[1], data: pts(m1), borderColor: RED, borderWidth: 2, borderDash: [4, 4], pointRadius: 0, fill: false}
    ]},
    options: baseOptions(top, xh, -2, 2, changeTicks, v => v.toFixed(1), 5),
    plugins: [{id: 'deco' + id, afterDraw(chart) { drawProfileDeco(chart, P); }}]
  });
}

profileChart('cb', bMeasured, bModel1, bModel2, {
  canvasTop: 490, unitY: 583, distY: 954, letter: 'b', titleY: 575, titleX: 143,
  title: 'Sohlenveränderungen 1974 - 1988',
  wehrTop: 0.10, wehrBot: -0.15, felsLab: -1.73, waffLab: -1.95, ellLab: -1.61, felsTri: -0.78,
  verzY: 0.81, oldisY: 0.59, oldisArrow: 0.40, mastArrow: 1.37, mastY: 1.37, rheinY: 1.13,
  year: '1974', yearY: 0.30,
  legend: {x1: 857, x2: 1180, y1: 558, y2: 659, lx1: 877, lx2: 968, tx: 980, rows: [587, 611, 635],
    names: ['1988-1974, gl. 5QP', 'berechnet Modell 1', 'berechnet Modell 2']}
}, 64, 66);

profileChart('cc', cMeasured, cModel1, cModel2, {
  canvasTop: 990, unitY: 1088, distY: 1460, letter: 'c', titleY: 1077, titleX: 141,
  title: 'Sohlenveränderungen 1988 - 1996',
  wehrTop: 0.09, wehrBot: -0.14, felsLab: -1.70, waffLab: -1.93, ellLab: -1.60, felsTri: -0.79,
  verzY: 1.21, oldisY: 0.97, oldisArrow: 0.39, mastArrow: 1.36, mastY: 1.38, rheinY: 1.12,
  year: '1988', yearY: 0.29,
  legend: {x1: 869, x2: 1186, y1: 1066, y2: 1167, lx1: 891, lx2: 983, tx: 993, rows: [1094, 1118, 1142],
    names: ['gemessen', 'berechnet Modell 1', 'berechnet Modell 2']}
}, 69, 63);
</script>
</body></html>
